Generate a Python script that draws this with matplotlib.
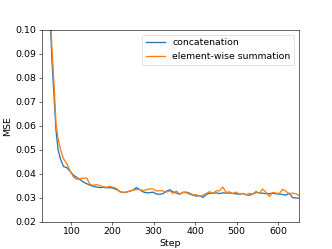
import matplotlib
matplotlib.use("Agg")
import matplotlib.pyplot as plt

steps = [40, 50, 55, 60, 65, 70, 76, 83, 91, 99, 107, 115, 123, 131, 139, 147, 155, 163, 171, 179,
         187, 195, 203, 211, 219, 227, 235, 243, 251, 259, 267, 275, 283, 291, 299, 307, 315, 323,
         331, 339, 347, 355, 363, 371, 379, 387, 395, 403, 411, 419, 427, 435, 443, 451, 459, 467,
         475, 483, 491, 499, 507, 515, 523, 531, 539, 547, 555, 563, 571, 579, 587, 595, 603, 611,
         619, 627, 635, 643, 650]

concat = [0.16, 0.108, 0.088, 0.073, 0.058, 0.050, 0.046, 0.043, 0.0425, 0.041, 0.0393, 0.0385,
          0.0375, 0.0365, 0.0358, 0.0352, 0.0347, 0.0344, 0.0342, 0.0343, 0.0341, 0.0342, 0.0339,
          0.0334, 0.0326, 0.0321, 0.0323, 0.0327, 0.0332, 0.0342, 0.0333, 0.0324, 0.0320, 0.0321,
          0.0323, 0.0315, 0.0314, 0.0317, 0.0327, 0.0333, 0.0324, 0.0319, 0.0314, 0.0322, 0.0323,
          0.0318, 0.0311, 0.0306, 0.0308, 0.0301, 0.0313, 0.0319, 0.0318, 0.0320, 0.0317, 0.0320,
          0.0319, 0.0320, 0.0317, 0.0316, 0.0314, 0.0317, 0.0312, 0.0310, 0.0315, 0.0322, 0.0320,
          0.0318, 0.0317, 0.0317, 0.0318, 0.0316, 0.0315, 0.0313, 0.0310, 0.0319, 0.0300, 0.0299,
          0.0298]

summation = [0.16, 0.112, 0.093, 0.078, 0.061, 0.0545, 0.050, 0.0462, 0.0442, 0.0411, 0.0386,
             0.0376, 0.0380, 0.0381, 0.0382, 0.0355, 0.0351, 0.0355, 0.0350, 0.0345, 0.0344, 0.0347,
             0.0343, 0.0338, 0.0324, 0.0322, 0.0324, 0.0328, 0.0331, 0.0334, 0.0334, 0.0329, 0.0333,
             0.0337, 0.0336, 0.0328, 0.0329, 0.0328, 0.0323, 0.0328, 0.0318, 0.0328, 0.0315, 0.0323,
             0.0320, 0.0314, 0.0310, 0.0313, 0.0306, 0.0310, 0.0317, 0.0325, 0.0318, 0.0328, 0.0329,
             0.0344, 0.0322, 0.0324, 0.0318, 0.0323, 0.0315, 0.0318, 0.0312, 0.0318, 0.0314, 0.0326,
             0.0318, 0.0336, 0.0322, 0.0305, 0.0322, 0.0319, 0.0317, 0.0335, 0.0327, 0.0314, 0.0319,
             0.0316, 0.0310]

labels = ["concatenation", "element-wise summation"]

plt.rcParams["font.size"] = 13
dpi = 332 / 6.4
fig, ax = plt.subplots(figsize=(6.4, 4.8), dpi=dpi)
ax.plot(steps, concat, label=labels[0], lw=1.8)
ax.plot(steps, summation, label=labels[1], lw=1.8)
ax.set_xlim(30, 650)
ax.set_ylim(0.02, 0.10)
ax.set_xlabel("Step")
ax.set_ylabel("MSE")
ax.legend(loc="upper right")
fig.savefig("out.png", dpi=dpi)
